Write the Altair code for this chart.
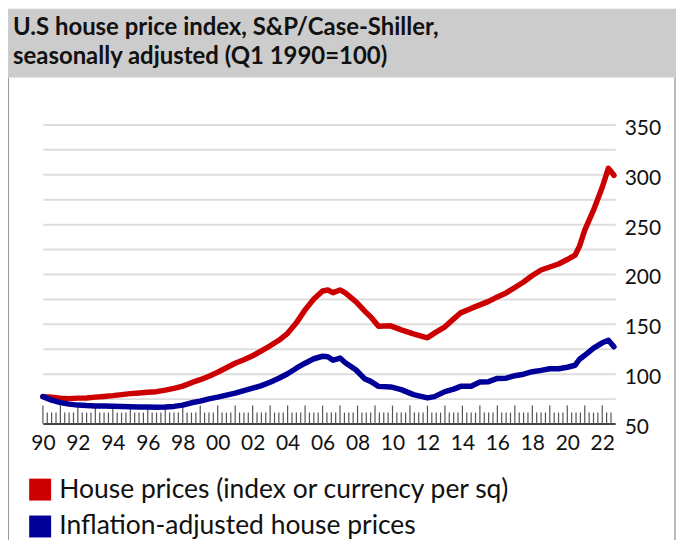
import altair as alt
import pandas as pd

SER_H = "House prices (index or currency per sq)"
SER_R = "Inflation-adjusted house prices"

years = [1990.0, 1990.5, 1991.0, 1991.5, 1992.0, 1992.5, 1993.0, 1993.5, 1994.0, 1994.5,
         1995.0, 1995.5, 1996.0, 1996.5, 1997.0, 1997.5, 1998.0, 1998.5, 1999.0, 1999.5,
         2000.0, 2000.5, 2001.0, 2001.5, 2002.0, 2002.5, 2003.0, 2003.5, 2004.0, 2004.5,
         2005.0, 2005.5, 2006.0, 2006.3, 2006.6, 2007.0, 2007.3, 2007.9, 2008.4, 2008.75,
         2009.2, 2009.9, 2010.5, 2011.2, 2012.0, 2012.4, 2013.0, 2013.5, 2013.9, 2014.5,
         2015.0, 2015.5, 2016.0, 2016.5, 2017.0, 2017.5, 2018.0, 2018.5, 2019.0, 2019.5,
         2020.0, 2020.45, 2020.7, 2021.0, 2021.5, 2022.0, 2022.35, 2022.67]
house = [77, 76.5, 75.5, 75, 75.5, 75.7, 76.5, 77.2, 78, 79,
         80, 80.7, 81.3, 82, 83.5, 85.3, 87.5, 91, 94, 97.5,
         101.5, 106, 110.5, 114, 118, 123, 128, 133.5, 140.5, 151,
         164, 175, 183, 184, 181.3, 184, 181, 172.3, 163, 157,
         147.5, 148, 144, 140, 136, 140.7, 147, 155, 161, 165.5,
         169, 172.5, 177, 181, 186.5, 192, 198.5, 204, 207, 210,
         214.5, 219, 228, 244, 264, 287, 306, 299]
real = [77, 73.5, 71, 69.5, 68.5, 68, 67.7, 67.5, 67.3, 67,
        66.8, 66.7, 66.5, 66.3, 66.5, 67.2, 68.5, 70.8, 72.5, 74.8,
        76.5, 78.5, 80.5, 83, 85.5, 88, 91.5, 95.5, 100, 105.5,
        110.5, 115, 117.5, 117, 113.5, 115.7, 111, 104, 95, 92.3,
        87.3, 86.7, 84, 79, 75.7, 77, 82, 84.5, 87.3, 87.5,
        91.7, 92, 95.3, 95.5, 98, 99.5, 102, 103.3, 105, 105,
        106.5, 108.5, 114.5, 118.5, 125.7, 131, 133.5, 127]

label_years = list(range(1990, 2023, 2))
year_ticks = list(range(1990, 2023))
quarter_ticks = [y + q / 4 for y in range(1990, 2023) for q in (1, 2, 3) if y + q / 4 <= 2022.74]
y_values = list(range(50, 351, 25))

TITLE = ["U.S house price index, S&P/Case-Shiller,", "seasonally adjusted (Q1 1990=100)"]

df = pd.DataFrame({"year": years, SER_H: house, SER_R: real}).melt(
    "year", var_name="series", value_name="value")
df_year = pd.DataFrame({"year": year_ticks})
df_quarter = pd.DataFrame({"year": quarter_ticks})
one = pd.DataFrame({"a": [0]})

W, H = 574, 300
FONT = "Lato"
xscale = alt.Scale(domain=[1990, 2022.74], nice=False, zero=False)
yscale = alt.Scale(domain=[50, 350], nice=False, zero=False)
cscale = alt.Scale(domain=[SER_H, SER_R], range=["#cc0000", "#000099"])

x_axis = alt.Axis(values=label_years,
                  labelExpr="(datum.value % 100) < 10 ? '0' + (datum.value % 100) : '' + (datum.value % 100)",
                  grid=False, ticks=False, domain=True, domainColor="#444444", domainWidth=2,
                  labelFont=FONT, labelFontSize=21, labelColor="#111111", labelPadding=9,
                  labelFlush=False)
X = alt.X("year:Q", scale=xscale, title=None, axis=x_axis)

band = alt.Chart(one).mark_rect(color="#cccccc").encode(
    x=alt.value(-35), x2=alt.value(640), y=alt.value(-116), y2=alt.value(-47))
title = alt.Chart(one).mark_text(
    text=TITLE, align="left", baseline="alphabetic", font=FONT, fontSize=24,
    fontWeight="bold", color="#111111", lineHeight=29.5
).encode(x=alt.value(-30), y=alt.value(-90))
border_l = alt.Chart(one).mark_rule(color="#999999", strokeWidth=1).encode(
    x=alt.value(-34.5), y=alt.value(-47), y2=alt.value(430))
border_r = alt.Chart(one).mark_rule(color="#bbbbbb", strokeWidth=2).encode(
    x=alt.value(634), y=alt.value(-47), y2=alt.value(430))

legend_layer = alt.Chart(df).mark_square(filled=True).encode(
    color=alt.Color("series:N", scale=cscale,
                    legend=alt.Legend(orient="none", legendX=-16, legendY=353, title=None,
                                      symbolType="square", symbolSize=484, symbolStrokeWidth=0,
                                      symbolOpacity=1, labelFont=FONT, labelFontSize=26.5,
                                      labelColor="#111111", labelOffset=6, rowPadding=10,
                                      padding=0, labelLimit=640))
).transform_filter("false")

lines = alt.Chart(df).mark_line(strokeWidth=5.5, strokeCap="round", strokeJoin="round").encode(
    x=X,
    y=alt.Y("value:Q", scale=yscale, title=None,
            axis=alt.Axis(orient="right", values=y_values,
                          labelExpr="datum.value % 50 == 0 ? datum.label : ''",
                          grid=True, gridColor="#dddddd", gridWidth=2, ticks=False, domain=False,
                          labelFont=FONT, labelFontSize=21, labelColor="#111111", labelPadding=9,
                          labelOffset=4, labelFlush=False)),
    color=alt.Color("series:N", scale=cscale),
)

tick_y = alt.Chart(df_year).mark_rule(color="#555555", strokeWidth=1.2).encode(
    x=X, y=alt.value(H), y2=alt.value(H - 18))
tick_q = alt.Chart(df_quarter).mark_rule(color="#555555", strokeWidth=1.2).encode(
    x=X, y=alt.value(H), y2=alt.value(H - 11))

chart = alt.layer(band, title, border_l, border_r, legend_layer, tick_q, tick_y, lines).properties(
    width=W, height=H,
    autosize=alt.AutoSizeParams(type="none"),
    padding={"left": 35, "top": 116, "right": 61, "bottom": 116},
    background="white",
).configure_view(stroke=None)

chart.save("out.html", embed_options={"renderer": "svg", "actions": False})
